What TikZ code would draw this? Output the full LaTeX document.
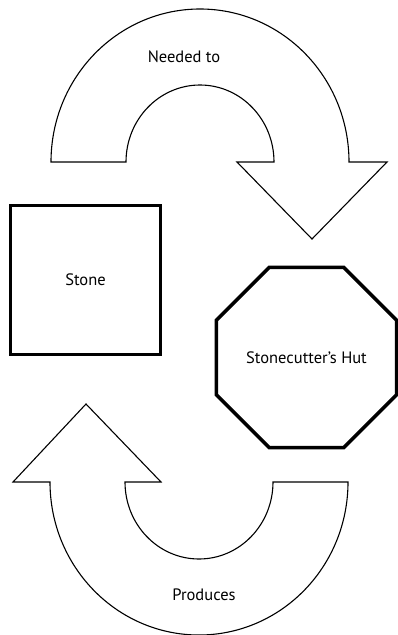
\documentclass[tikz,border=0pt]{standalone}
\usepackage{fontspec}
\setmainfont{PT Sans}
\usetikzlibrary{shapes.geometric, positioning}

\begin{document}
\begin{tikzpicture}[x=1pt, y=-1pt,
  thing/.style={rectangle, draw, line width=3.5pt, minimum width=150pt,
                minimum height=149pt, align=center, font=\fontsize{16.5}{19}\selectfont},
  place/.style={regular polygon, regular polygon sides=8, draw, line width=3.5pt,
                minimum size=193pt, align=center, font=\fontsize{16.5}{19}\selectfont},
  flow/.style={draw, line width=1.1pt, line join=miter, fill=white},
  lbl/.style={font=\fontsize{16.5}{19}\selectfont},
]
\useasboundingbox (0,0) rectangle (398,635);

% block arrows
\draw[flow] (51,162) arc[start angle=180, end angle=360, x radius=149, y radius=153]
  -- (387,162) -- (312,239) -- (237,162) -- (274,162)
  arc[start angle=0, end angle=-180, x radius=74, y radius=77] -- cycle;
\draw[flow] (50,482) -- (13,482) -- (86,404) -- (161,482) -- (125,482)
  arc[start angle=180, end angle=0, x radius=74, y radius=77] -- (348,482)
  arc[start angle=0, end angle=180, x radius=149, y radius=153] -- cycle;

\node[thing] (stone) at (85.5,280)   {Stone};
\node[place] (hut)   at (306.5,357.5) {Stonecutter's Hut};

\node[lbl] (needed)   at (184,57)  {Needed to};
\node[lbl] (produces) at (204,595) {Produces};
\end{tikzpicture}
\end{document}
